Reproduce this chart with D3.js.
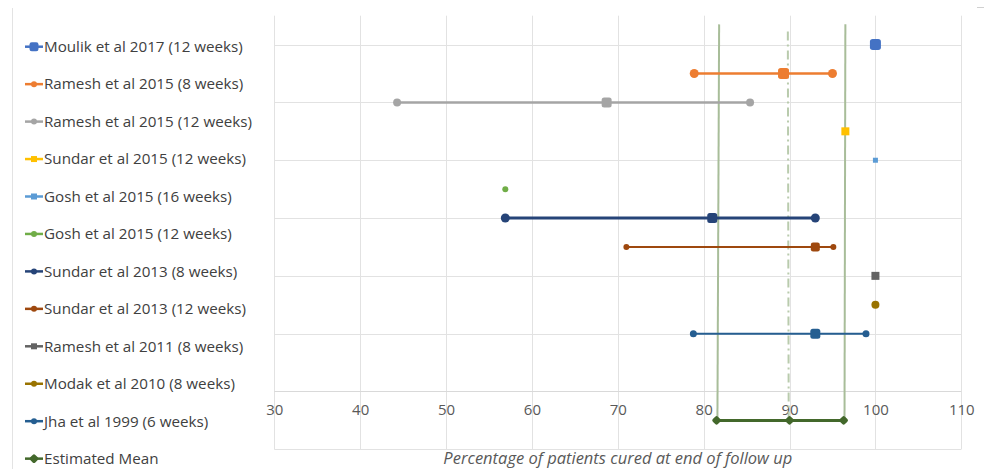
<!DOCTYPE html>
<html>
<head>
<meta charset="utf-8">
<script src="https://cdn.jsdelivr.net/npm/d3@7"></script>
<style>
  html, body { margin: 0; padding: 0; background: #fff; }
  svg { display: block; }
</style>
</head>
<body>
<svg id="chart" width="985" height="469"></svg>
<script>
// ---------------- DATA ----------------
const studies = [
  "Moulik et al 2017 (12 weeks)",
  "Ramesh et al 2015 (8 weeks)",
  "Ramesh et al 2015 (12 weeks)",
  "Sundar et al 2015 (12 weeks)",
  "Gosh et al 2015 (16 weeks)",
  "Gosh et al 2015 (12 weeks)",
  "Sundar et al 2013 (8 weeks)",
  "Sundar et al 2013 (12 weeks)",
  "Ramesh et al 2011 (8 weeks)",
  "Modak et al 2010 (8 weeks)",
  "Jha et al 1999 (6 weeks)",
  "Estimated Mean"
];
const lowValues  = [null, 78.9, 44.3, null, null, null, 56.9, 71.0, null, null, 78.8, 81.5];
const midValues  = [100, 89.3, 68.7, 96.5, 100, 56.9, 81.0, 93.0, 100, 100, 93.0, 90.0];
const highValues = [null, 95.0, 85.4, null, null, null, 93.0, 95.1, null, null, 98.9, 96.3];
const rowPositions = [12, 11, 10, 9, 8, 7, 6, 5, 4, 3, 2, -1];

const xTicks = [30, 40, 50, 60, 70, 80, 90, 100, 110];
const yGridValues = [-2, 0, 2, 4, 6, 8, 10, 12];

// confidence band reference lines: [x at bottom, x at top]
const lowerLimitLine = [81.6, 81.8];
const meanLine = [89.9, 89.8];
const upperLimitLine = [96.4, 96.5];
const refLineYRange = [-1, 12.7];
const meanLineYRange = [-1, 12.5];

const xTitle = "Percentage of patients cured at end of follow up";

// ---------------- STYLES ----------------
const colors = ["#4472C4", "#ED7D31", "#A5A5A5", "#FFC000", "#5B9BD5", "#70AD47",
                "#264478", "#9E480E", "#636363", "#997300", "#255E91", "#43682B"];
const midMarker = [
  ["rsquare", 11], ["rsquare", 11], ["rsquare", 10], ["square", 8], ["square", 5], ["circle", 6],
  ["rsquare", 10], ["rsquare", 9], ["square", 8], ["circle", 8], ["rsquare", 10], ["diamond", 8]
];
const endMarkerSize = [0, 9, 8, 0, 0, 0, 9, 6, 0, 0, 7, 8];
const lineWidths = [0, 2.5, 2.5, 0, 0, 0, 3, 2, 0, 0, 2, 3];

// ---------------- CHART ----------------
const svg = d3.select("#chart");
const x = d3.scaleLinear().domain([30, 110]).range([274.3, 961.3]);
const y = d3.scaleLinear().domain([-2, 13]).range([449.3, 15.7]);

svg.append("line").attr("x1", 12.5).attr("x2", 12.5).attr("y1", 8).attr("y2", 469)
  .attr("stroke", "#e3e3e3").attr("stroke-width", 1);
svg.append("line").attr("x1", 977).attr("x2", 984).attr("y1", 7.5).attr("y2", 7.5)
  .attr("stroke", "#d0d0d0").attr("stroke-width", 1);

const grid = svg.append("g");
grid.selectAll("line.v").data(xTicks).join("line")
  .attr("x1", d => Math.round(x(d)) + 0.5).attr("x2", d => Math.round(x(d)) + 0.5)
  .attr("y1", y(13)).attr("y2", y(-2))
  .attr("stroke", "#e2e2e2").attr("stroke-width", 1);
grid.selectAll("line.h").data(yGridValues).join("line")
  .attr("x1", x(30)).attr("x2", x(110))
  .attr("y1", d => Math.round(y(d)) + 0.5).attr("y2", d => Math.round(y(d)) + 0.5)
  .attr("stroke", d => d === 0 ? "#d9d9d9" : "#e2e2e2").attr("stroke-width", 1);

const axis = d3.axisBottom(x).tickValues(xTicks).tickSize(0).tickPadding(0).tickFormat(d3.format("d"));
const axisG = svg.append("g").attr("transform", `translate(0, ${y(0) + 12})`).call(axis);
axisG.select(".domain").remove();
axisG.selectAll("text")
  .attr("fill", "#595959").attr("font-family", "'Open Sans', sans-serif")
  .attr("font-size", 15).attr("dy", "0.35em").attr("y", 6);

function refLine(xs, ys, dash) {
  svg.append("line")
    .attr("x1", x(xs[0])).attr("y1", y(ys[0]))
    .attr("x2", x(xs[1])).attr("y2", y(ys[1]))
    .attr("stroke", dash ? "#b9cbad" : "#a8bd99")
    .attr("stroke-width", 2)
    .attr("stroke-dasharray", dash ? "9,4,2,4" : null);
}
refLine(lowerLimitLine, refLineYRange, false);
refLine(upperLimitLine, refLineYRange, false);
refLine(meanLine, meanLineYRange, true);

function drawMarker(g, shape, size, cx, cy, color) {
  if (shape === "circle") {
    g.append("circle").attr("cx", cx).attr("cy", cy).attr("r", size / 2).attr("fill", color);
  } else if (shape === "square") {
    g.append("rect").attr("x", cx - size / 2).attr("y", cy - size / 2)
      .attr("width", size).attr("height", size).attr("fill", color);
  } else if (shape === "rsquare") {
    g.append("rect").attr("x", cx - size / 2).attr("y", cy - size / 2)
      .attr("width", size).attr("height", size).attr("rx", size * 0.25).attr("fill", color);
  } else if (shape === "diamond") {
    const s = size / Math.SQRT2;
    g.append("rect").attr("x", -s / 2).attr("y", -s / 2).attr("width", s).attr("height", s)
      .attr("rx", s * 0.2)
      .attr("transform", `translate(${cx},${cy}) rotate(45)`)
      .attr("fill", color).attr("stroke", color).attr("stroke-width", 1.5);
  }
}

const seriesG = svg.append("g");
studies.forEach((name, i) => {
  const g = seriesG.append("g");
  const cy = y(rowPositions[i]);
  const c = colors[i];
  if (lowValues[i] !== null) {
    g.append("line").attr("x1", x(lowValues[i])).attr("x2", x(highValues[i]))
      .attr("y1", cy).attr("y2", cy).attr("stroke", c).attr("stroke-width", lineWidths[i]);
    const endShape = i === 11 ? "diamond" : "circle";
    drawMarker(g, endShape, endMarkerSize[i], x(lowValues[i]), cy, c);
    drawMarker(g, endShape, endMarkerSize[i], x(highValues[i]), cy, c);
  }
  drawMarker(g, midMarker[i][0], midMarker[i][1], x(midValues[i]), cy, c);
});

const legend = svg.append("g");
studies.forEach((name, i) => {
  const ly = 46.7 + 37.45 * i;
  const c = colors[i];
  legend.append("line").attr("x1", 25).attr("x2", 43).attr("y1", ly).attr("y2", ly)
    .attr("stroke", c).attr("stroke-width", 2.5);
  if (i === 0) drawMarker(legend, "rsquare", 9, 34, ly, c);
  else if (i === 11) drawMarker(legend, "diamond", 8, 34, ly, c);
  else drawMarker(legend, i === 8 || i === 3 || i === 4 ? "square" : "circle", 6, 34, ly, c);
  legend.append("text").attr("x", 44).attr("y", ly).attr("dy", "0.35em")
    .attr("font-family", "'Open Sans', sans-serif").attr("font-size", 15.2)
    .attr("fill", "#404040").text(name);
});

svg.append("text").attr("x", (x(30) + x(110)) / 2).attr("y", 463.5)
  .attr("text-anchor", "middle").attr("font-family", "'Open Sans', sans-serif")
  .attr("font-style", "italic").attr("font-size", 16.5).attr("fill", "#595959")
  .text(xTitle);
</script>
</body>
</html>
